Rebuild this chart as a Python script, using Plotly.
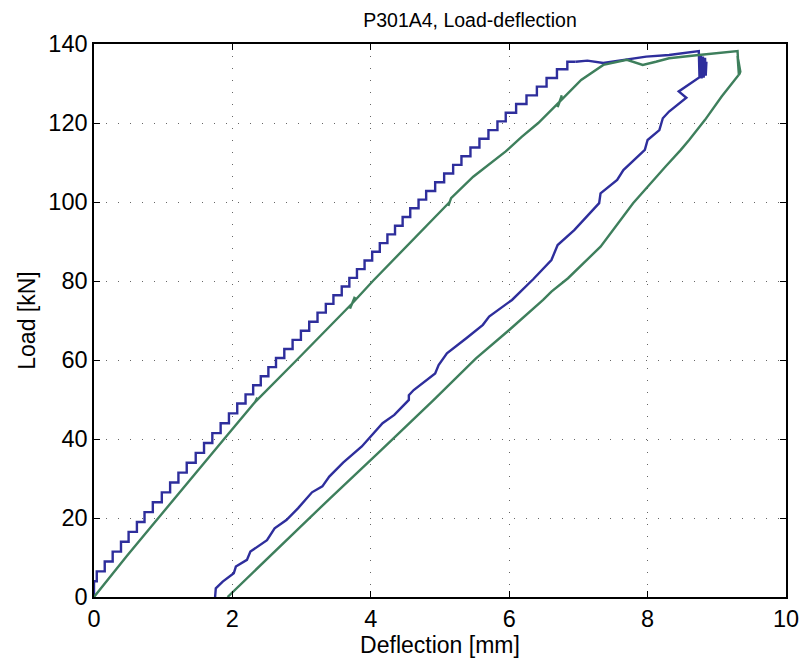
import plotly.graph_objects as go

# Blue test: stepped loading branch (step corners)
blue_load_x = [0, 0.04, 0.155, 0.27, 0.39, 0.50, 0.62, 0.73, 0.85, 0.98, 1.10, 1.22, 1.34, 1.47,
               1.59, 1.71, 1.83, 1.95, 2.07, 2.19, 2.30, 2.41, 2.52, 2.63, 2.75, 2.87, 2.99, 3.11,
               3.23, 3.35, 3.46, 3.58, 3.69, 3.80, 3.91, 4.02, 4.13, 4.24, 4.35, 4.46, 4.57, 4.69,
               4.80, 4.93, 5.06, 5.19, 5.31, 5.44, 5.57, 5.70, 5.83, 5.95, 6.10, 6.25, 6.40, 6.54,
               6.69, 6.84, 6.96]
blue_load_y = [0, 4, 6.5, 9, 11.5, 14, 16.5, 19, 21.5, 24, 26.5, 29, 31.5, 34, 36.5, 39, 41.5, 44,
               46.5, 49, 51.3, 53.6, 55.9, 58.2, 60.5, 62.8, 65.1, 67.4, 69.7, 72, 74.2, 76.4, 78.6,
               80.8, 83, 85.2, 87.4, 89.6, 91.8, 94, 96.2, 98.4, 100.6, 102.8, 105, 107.2, 109.4,
               111.6, 113.8, 116, 118.2, 120.4, 122.6, 124.8, 127, 129.2, 131.4, 133.6, 135.5]

# Blue test: plateau, hold at peak and unloading branch
blue_rest_x = [6.96, 7.13, 7.36, 7.65, 7.98, 8.31, 8.74, 8.75, 8.77, 8.78, 8.80, 8.81, 8.83, 8.84,
               8.85, 8.84, 8.78, 8.76, 8.45, 8.56, 8.31, 8.22, 8.17, 8.00, 7.96, 7.65, 7.56, 7.32,
               7.30, 7.08, 6.94, 6.70, 6.61, 6.35, 6.04, 5.71, 5.62, 5.38, 5.10, 4.98, 4.93, 4.62,
               4.55, 4.55, 4.46, 4.34, 4.17, 3.87, 3.60, 3.40, 3.30, 3.15, 2.95, 2.78, 2.61, 2.50,
               2.26, 2.21, 2.05, 2.02, 1.86, 1.76, 1.75]
blue_rest_y = [135.5, 135.8, 135.2, 136.0, 136.8, 137.2, 138.2, 131.5, 137.0, 131.3, 136.8, 131.5,
               136.5, 132.0, 135.5, 132.5, 131.8, 131.7, 128.0, 126.4, 122.9, 121.2, 118.2, 115.7,
               113.2, 108.1, 105.6, 102.2, 99.7, 95.4, 92.9, 89.1, 85.3, 80.5, 75.2, 71.0, 68.9,
               65.5, 61.7, 58.7, 56.6, 52.4, 51.1, 49.9, 48.2, 46.1, 44.0, 38.1, 34.0, 30.5, 28.0,
               26.5, 22.5, 19.5, 17.4, 14.4, 11.5, 9.4, 7.7, 6.0, 3.9, 2.2, 0.0]

# Green test: full loading / unloading path
green_x = [0, 0.48, 0.93, 1.40, 1.88, 2.33, 2.36, 2.33, 2.93, 3.45, 3.73, 3.70, 3.77, 3.73, 4.03,
           4.60, 5.14, 5.12, 5.16, 5.48, 5.95, 6.18, 6.42, 6.73, 6.70, 6.76, 6.73, 7.04, 7.36,
           7.70, 7.93, 8.12, 8.31, 8.74, 9.30, 9.32, 9.30, 9.33, 9.31, 9.34, 9.33, 9.07, 8.83,
           8.60, 8.48, 8.26, 7.98, 7.79, 7.32, 6.85, 6.61, 6.49, 6.00, 5.52, 4.91, 4.34, 4.15,
           3.40, 2.78, 1.93]
green_y = [0, 10.5, 20, 30, 40, 49.4, 50.5, 49.4, 60, 69.2, 74.3, 73.0, 76.0, 74.3, 80,
           90.2, 100, 99.0, 101.0, 106.4, 112.8, 116.5, 120, 125.4, 124.0, 127.0, 125.4, 130.9,
           134.7, 136.0, 134.7, 135.5, 136.4, 137.2, 138.2, 132.0, 137.0, 132.5, 136.0, 133.0,
           132.5, 126.7, 120.8, 115.7, 113.2, 109.0, 103.5, 99.7, 88.7, 80.7, 77.3, 75.2, 67.6,
           60.4, 49.9, 40.2, 37.2, 24.8, 14.4, 0.0]

x_ticks = [0, 2, 4, 6, 8, 10]
y_ticks = [0, 20, 40, 60, 80, 100, 120, 140]

BLUE = "#2E2E9C"
GREEN = "#3E7F5C"

fig = go.Figure()
fig.add_trace(go.Scatter(x=blue_load_x, y=blue_load_y, mode="lines",
                         line=dict(color=BLUE, width=2.4, shape="vh"), showlegend=False))
fig.add_trace(go.Scatter(x=blue_rest_x, y=blue_rest_y, mode="lines",
                         line=dict(color=BLUE, width=2.4), showlegend=False))
fig.add_trace(go.Scatter(x=green_x, y=green_y, mode="lines",
                         line=dict(color=GREEN, width=2.4), showlegend=False))

font_family = "Liberation Sans, Arial, sans-serif"
axis_common = dict(
    showline=True, linecolor="black", linewidth=1.5, mirror="ticks",
    ticks="inside", ticklen=6, tickcolor="black", tickwidth=1,
    showgrid=True, gridcolor="#666666", griddash="1px,11px", gridwidth=1.2,
    zeroline=False, tickfont=dict(size=23.5, color="black", family=font_family),
)

# page body has an 8px margin, so the figure is 803x658 and offset by 8px
fig.update_layout(
    width=803, height=658,
    margin=dict(l=86, r=12, t=36, b=69),
    paper_bgcolor="white", plot_bgcolor="white",
    title=dict(text="P301A4, Load-deflection", x=462 / 803, xanchor="center",
               y=1 - 12 / 658, yanchor="middle",
               font=dict(size=19.5, color="black", family=font_family)),
    xaxis=dict(range=[0, 10], tickvals=x_ticks, title=dict(text="Deflection [mm]", standoff=2,
               font=dict(size=23, color="black", family=font_family)), **axis_common),
    yaxis=dict(range=[0, 140], tickvals=y_ticks, title=dict(text="Load [kN]", standoff=6,
               font=dict(size=23, color="black", family=font_family)), **axis_common),
)

fig.write_html("out.html")
